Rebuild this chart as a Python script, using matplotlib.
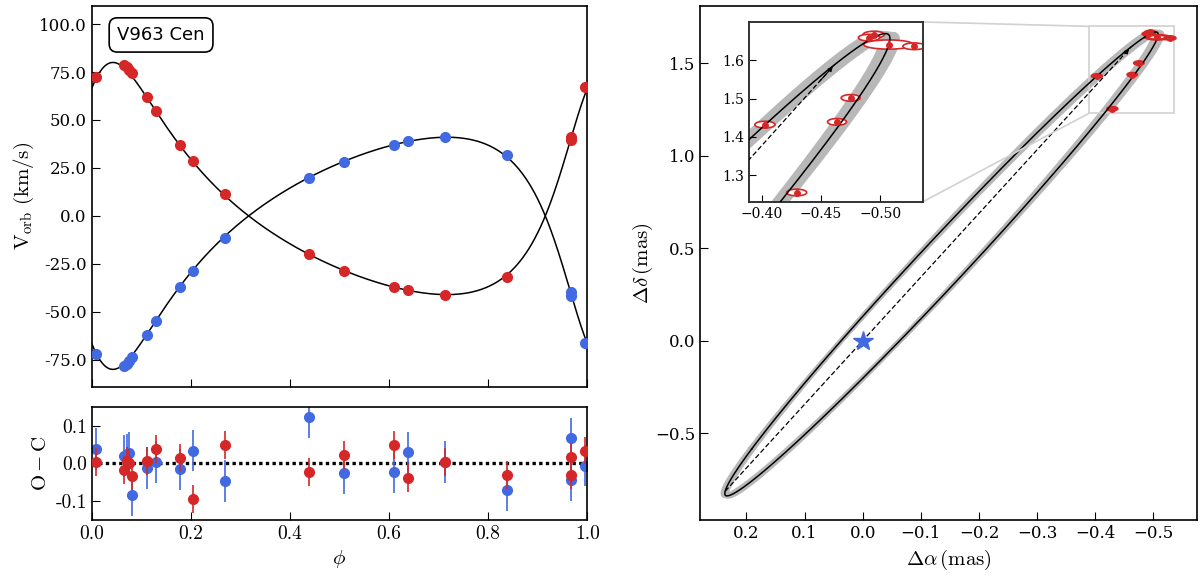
import numpy as np
import matplotlib
matplotlib.use('Agg')
import matplotlib.pyplot as plt
from matplotlib.patches import Ellipse
from matplotlib.ticker import FormatStrFormatter
from mpl_toolkits.axes_grid1.inset_locator import mark_inset

plt.rcParams['font.family'] = 'DejaVu Serif'
plt.rcParams['mathtext.fontset'] = 'cm'
plt.rcParams['xtick.direction'] = 'in'
plt.rcParams['ytick.direction'] = 'in'
plt.rcParams['xtick.major.size'] = 6
plt.rcParams['ytick.major.size'] = 6
plt.rcParams['axes.linewidth'] = 1.2

RED = '#d62728'
BLUE = 'royalblue'

# radial velocities
phase = [0.009, 0.066, 0.071, 0.076, 0.081, 0.112, 0.130, 0.179, 0.205, 0.268,
         0.439, 0.510, 0.610, 0.639, 0.712, 0.838, 0.967, 0.968, 0.996]
v_red = [72.5, 78.5, 77.4, 76.0, 74.5, 62.2, 54.9, 36.8, 28.5, 11.3,
         -20.0, -28.5, -37.0, -38.8, -41.0, -31.8, 39.5, 41.0, 67.0]
v_blue = [-72.0, -78.0, -77.0, -75.5, -73.5, -62.0, -55.0, -37.0, -28.5, -11.3,
          20.0, 28.2, 36.8, 38.8, 41.0, 31.8, -39.5, -41.5, -66.0]

# O - C residuals
oc_red = [0.004, -0.018, 0.007, 0.000, -0.034, 0.007, 0.039, 0.013, -0.094, 0.048,
          -0.023, 0.021, 0.048, -0.039, 0.004, -0.031, 0.018, -0.031, 0.034]
oc_blue = [0.038, 0.020, 0.024, 0.027, -0.085, -0.013, 0.004, -0.016, 0.034, -0.047,
           0.122, -0.025, -0.023, 0.029, 0.004, -0.071, 0.066, -0.045, -0.006]
err_red = [0.037] * 19
err_blue = [0.055] * 19

# orbital solution
period = 1.0
t_peri = 0.0
ecc = 0.415
omega_deg = 320.9
k1 = 60.5
k2 = 60.5
gamma = 0.0
a_mas = 1.355
incl_deg = 87.7
node_deg = 163.8
band_dnode = [-0.22, -0.11, 0.0, 0.11, 0.22]

# interferometric positions (mas)
ra_obs = [-0.4028, -0.4295, -0.4635, -0.4750, -0.4944, -0.4905, -0.5070, -0.5285]
dec_obs = [1.4320, 1.2548, 1.4391, 1.5017, 1.6670, 1.6590, 1.6410, 1.6365]
sig_ra = [0.0085, 0.0085, 0.0080, 0.0080, 0.0090, 0.0090, 0.0210, 0.0095]
sig_dec = [0.0087, 0.0087, 0.0087, 0.0087, 0.0087, 0.0087, 0.0120, 0.0087]


def kepler(ph):
    m = 2 * np.pi * (np.asarray(ph) - t_peri) / period
    ea = m.copy()
    for _ in range(60):
        ea = ea - (ea - ecc * np.sin(ea) - m) / (1 - ecc * np.cos(ea))
    nu = 2 * np.arctan2(np.sqrt(1 + ecc) * np.sin(ea / 2), np.sqrt(1 - ecc) * np.cos(ea / 2))
    return nu, ea


def rel_orbit(node_off=0.0):
    w = np.radians(omega_deg)
    O = np.radians(node_deg + node_off)
    inc = np.radians(incl_deg)
    A = a_mas * (np.cos(w) * np.cos(O) - np.sin(w) * np.sin(O) * np.cos(inc))
    B = a_mas * (np.cos(w) * np.sin(O) + np.sin(w) * np.cos(O) * np.cos(inc))
    F = a_mas * (-np.sin(w) * np.cos(O) - np.cos(w) * np.sin(O) * np.cos(inc))
    G = a_mas * (-np.sin(w) * np.sin(O) + np.cos(w) * np.cos(O) * np.cos(inc))
    ea = np.linspace(0, 2 * np.pi, 1500)
    X = np.cos(ea) - ecc
    Y = np.sqrt(1 - ecc ** 2) * np.sin(ea)
    return B * X + G * Y, A * X + F * Y


fig = plt.figure(figsize=(12, 5.78), dpi=100)
ax1 = fig.add_axes([0.0764, 0.331, 0.413, 0.6586])
ax2 = fig.add_axes([0.0764, 0.1003, 0.413, 0.1961], sharex=ax1)
ax3 = fig.add_axes([0.5833, 0.1003, 0.4142, 0.8893])

# --- radial velocity curve
ph_fine = np.linspace(0, 1, 1000)
nu_f, _ = kepler(ph_fine)
w = np.radians(omega_deg)
model = np.cos(nu_f + w) + ecc * np.cos(w)
ax1.plot(ph_fine, gamma + k1 * model, color='k', lw=1.1, zorder=2)
ax1.plot(ph_fine, gamma - k2 * model, color='k', lw=1.1, zorder=2)
ax1.plot(phase, v_blue, 'o', color=BLUE, ms=7, zorder=3)
ax1.plot(phase, v_red, 'o', color=RED, ms=7, zorder=3)
ax1.set_xlim(0, 1)
ax1.set_ylim(-89, 109.4)
ax1.set_yticks(np.arange(-75, 101, 25))
ax1.yaxis.set_major_formatter(FormatStrFormatter('%.1f'))
ax1.tick_params(labelsize=12, labelbottom=False)
ax1.set_ylabel(r'$\mathrm{V_{orb}\ (km/s)}$', fontsize=15, labelpad=2)
ax1.text(0.14, 0.924, 'V963 Cen', transform=ax1.transAxes, ha='center', va='center',
         fontsize=13, family='DejaVu Sans',
         bbox=dict(boxstyle='round,pad=0.45', fc='white', ec='black', lw=1.2))

# --- residuals
ax2.axhline(0, color='k', ls=(0, (1, 1)), lw=2.4, zorder=1)
ax2.errorbar(phase, oc_blue, yerr=err_blue, fmt='o', color=BLUE, ms=7, elinewidth=1.2,
             capsize=0, zorder=2)
ax2.errorbar(phase, oc_red, yerr=err_red, fmt='o', color=RED, ms=7, elinewidth=1.2,
             capsize=0, zorder=3)
ax2.set_ylim(-0.15, 0.15)
ax2.set_yticks([-0.1, 0.0, 0.1])
ax2.set_yticklabels(['-0.1', '0.0', '0.1'], fontfamily='cmr10', fontsize=14)
ax2.set_xticks([0.0, 0.2, 0.4, 0.6, 0.8, 1.0])
ax2.set_xticklabels(['0.0', '0.2', '0.4', '0.6', '0.8', '1.0'], fontfamily='cmr10', fontsize=14)
ax2.set_ylabel(r'$\mathrm{O-C}$', fontsize=15)
ax2.set_xlabel(r'$\phi$', fontsize=15)

# --- astrometric orbit
orb_ra, orb_dec = rel_orbit()
r1 = a_mas * (1 - ecc ** 2) / (1 + ecc * np.cos(w))
r2 = a_mas * (1 - ecc ** 2) / (1 - ecc * np.cos(w))
On = np.radians(node_deg)
node_a = (r1 * np.sin(On), r1 * np.cos(On))
node_b = (-r2 * np.sin(On), -r2 * np.cos(On))

axins = ax3.inset_axes([0.0992, 0.619, 0.349, 0.350])


def draw_orbit(ax, small):
    for d in band_dnode:
        bx, by = rel_orbit(d)
        ax.plot(bx, by, color='0.72', lw=3.5, solid_capstyle='round', zorder=1)
    ax.plot(orb_ra, orb_dec, color='k', lw=1.1, zorder=3)
    ax.plot([node_a[0], node_b[0]], [node_a[1], node_b[1]], color='k', ls='--',
            lw=0.9, dashes=(4, 2), zorder=3)
    ax.annotate('', xy=node_b, xytext=(0.97 * node_b[0], 0.97 * node_b[1]),
                arrowprops=dict(arrowstyle='-|>', color='k', lw=0.8, mutation_scale=7),
                zorder=3)
    for x, y, sx, sy in zip(ra_obs, dec_obs, sig_ra, sig_dec):
        d2 = ((orb_ra - x) * 3.1) ** 2 + (orb_dec - y) ** 2
        k = np.argmin(d2)
        ax.plot([x, orb_ra[k]], [y, orb_dec[k]], color='k', ls=':', lw=1.0, zorder=2)
        ax.add_patch(Ellipse((x, y), 2 * sx, 2 * sy, fc='white', ec=RED,
                             lw=1.2 if small else 1.8, zorder=2.5))
        ax.errorbar(x, y, yerr=sy, fmt='o', color=RED, ms=4,
                    elinewidth=1.2, capsize=0, zorder=4)


draw_orbit(ax3, False)
ax3.plot(0, 0, '*', color=BLUE, ms=15, zorder=5)
ax3.set_xlim(0.28, -0.575)
ax3.set_ylim(-0.97, 1.81)
ax3.set_xticks(np.arange(0.2, -0.55, -0.1))
ax3.set_yticks([-0.5, 0.0, 0.5, 1.0, 1.5])
ax3.tick_params(labelsize=12)
ax3.set_xlabel(r'$\Delta\alpha\,\mathrm{(mas)}$', fontsize=15)
ax3.set_ylabel(r'$\Delta\delta\,\mathrm{(mas)}$', fontsize=15, labelpad=0)

draw_orbit(axins, True)
axins.set_xlim(-0.3896, -0.5357)
axins.set_ylim(1.2304, 1.70)
axins.set_xticks([-0.40, -0.45, -0.50])
axins.set_yticks([1.3, 1.4, 1.5, 1.6])
axins.tick_params(labelsize=10, length=5)
for s in axins.spines.values():
    s.set_linewidth(1.4)
    s.set_edgecolor('0.2')
mark_inset(ax3, axins, loc1=1, loc2=4, fc='none', ec='0.82', lw=1.2)

fig.savefig('out.png', dpi=100)
